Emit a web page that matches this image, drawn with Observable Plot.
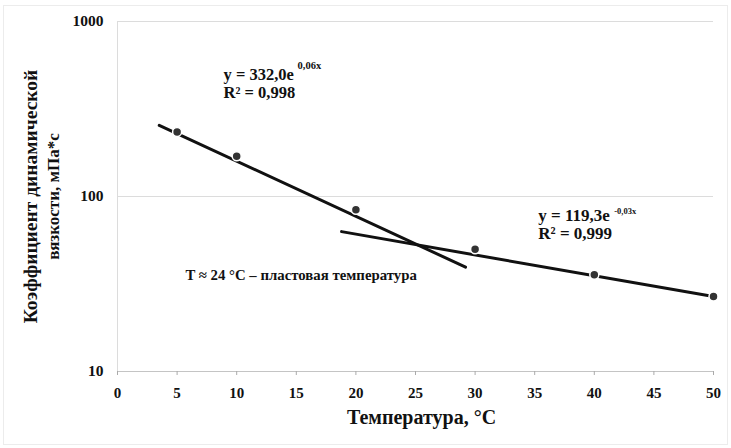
<!DOCTYPE html>
<html>
<head>
<meta charset="utf-8">
<script src="https://cdn.jsdelivr.net/npm/d3@7"></script>
<script src="https://cdn.jsdelivr.net/npm/@observablehq/plot@0.6"></script>
<style>
  html, body { margin: 0; padding: 0; background: #fff; }
  #chart { position: relative; width: 731px; height: 448px; }
  #frame { position: absolute; left: 3px; top: 5px; right: 3px; bottom: 3px; border: 1px solid #ececec; pointer-events: none; }
  svg { display: block; }
  #chart svg text { font-family: 'Liberation Serif', 'DejaVu Serif', serif; }
</style>
</head>
<body>
<div id="chart"><div id="frame"></div></div>
<script>
// Measured data points: temperature (°C) vs dynamic viscosity (mPa*s)
const temperature = [5, 10, 20, 30, 40, 50];
const viscosity = [234, 170, 84, 50, 35.7, 26.8];

// Trend line endpoints
const trendA_x = [3.5, 29.2];
const trendA_y = [255, 39.5];
const trendB_x = [18.8, 50];
const trendB_y = [63, 26.8];

// Axis ticks
const xTicks = [0, 5, 10, 15, 20, 25, 30, 35, 40, 45, 50];
const yTicks = [10, 100, 1000];

// Texts
const eqA = "y = 332,0e";
const eqAexp = "0,06x";
const r2A = "R² = 0,998";
const eqB = "y = 119,3e";
const eqBexp = "-0,03x";
const r2B = "R² = 0,999";
const note = "T ≈ 24 °C – пластовая температура";
const xLabel = "Температура, °C";
const yLabel1 = "Коэффициент динамической";
const yLabel2 = "вязкости, мПа*с";

const points = temperature.map((t, i) => ({t, v: viscosity[i]}));
const lineA = trendA_x.map((t, i) => ({t, v: trendA_y[i]}));
const lineB = trendB_x.map((t, i) => ({t, v: trendB_y[i]}));

const serif = "'Liberation Serif', 'DejaVu Serif', serif";
const T = (s, o) => Plot.text([s], {text: d => d, fontWeight: "bold", fill: "#111", ...o});

const plot = Plot.plot({
  width: 731,
  height: 448,
  marginLeft: 117,
  marginRight: 18,
  marginTop: 21,
  marginBottom: 77,
  style: {fontFamily: serif, background: "transparent", color: "#111"},
  x: {domain: [0, 50]},
  y: {type: "log", domain: [10, 1000]},
  marks: [
    Plot.ruleY([100, 1000], {stroke: "#dcdcdc", strokeWidth: 1}),
    Plot.ruleX([0], {stroke: "#dcdcdc", strokeWidth: 1}),
    Plot.ruleY([10], {stroke: "#c4c4c4", strokeWidth: 1}),
    Plot.axisX({ticks: xTicks, tickSize: 4, tickPadding: 12, stroke: "#aaa", fontSize: 15, fontWeight: "bold", label: null, fill: "#111"}),
    Plot.axisY({ticks: yTicks, tickSize: 0, tickPadding: 14, tickFormat: d => String(d), fontSize: 15.5, fontWeight: "bold", label: null, fill: "#111"}),
    Plot.line(lineA, {x: "t", y: "v", stroke: "#111", strokeWidth: 3}),
    Plot.line(lineB, {x: "t", y: "v", stroke: "#111", strokeWidth: 3}),
    Plot.dot(points, {x: "t", y: "v", r: 4.5, fill: "#333", stroke: "#fff", strokeWidth: 1.5}),
    // equation A
    T(eqA, {x: 8.9, y: 498, textAnchor: "start", fontSize: 16.5}),
    T(eqAexp, {x: 8.9, y: 498, textAnchor: "start", dx: 74, dy: -9, fontSize: 10.5}),
    T(r2A, {x: 8.9, y: 393, textAnchor: "start", fontSize: 16.5}),
    // equation B
    T(eqB, {x: 35.3, y: 77.9, textAnchor: "start", fontSize: 17}),
    T(eqBexp, {x: 35.3, y: 77.9, textAnchor: "start", dx: 76, dy: -4, fontSize: 8.5}),
    T(r2B, {x: 35.3, y: 61.5, textAnchor: "start", fontSize: 17}),
    // note
    T(note, {x: 5.7, y: 35.4, textAnchor: "start", fontSize: 14.8}),
    // axis titles
    T(xLabel, {frameAnchor: "bottom", dy: 52, dx: 6, fontSize: 20}),
    T(yLabel1, {frameAnchor: "left", dx: -87, rotate: -90, textAnchor: "middle", fontSize: 19.5}),
    T(yLabel2, {frameAnchor: "left", dx: -64, rotate: -90, textAnchor: "middle", fontSize: 17})
  ]
});
document.getElementById("chart").appendChild(plot);
</script>
</body>
</html>
